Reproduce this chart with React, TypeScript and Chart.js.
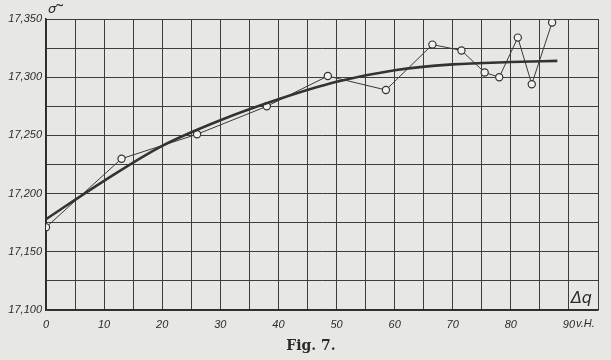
import React, { useEffect, useRef } from "react";
import { Chart, registerables } from "chart.js";

Chart.register(...registerables);

// measured points (Δq in v.H., conductivity)
const measX = [0, 13, 26, 38, 48.5, 58.5, 66.5, 71.5, 75.5, 78, 81.2, 83.6, 87.1];
const measY = [17.171, 17.23, 17.251, 17.275, 17.301, 17.289, 17.328, 17.323, 17.304, 17.3, 17.334, 17.294, 17.347];

// smooth fitted curve
const curveX = [0, 10, 20, 30, 40, 50, 60, 70, 80, 88];
const curveY = [17.178, 17.211, 17.241, 17.263, 17.281, 17.296, 17.306, 17.311, 17.313, 17.314];

const xTickLabels = ["0", "10", "20", "30", "40", "50", "60", "70", "80", "90"];
const yMin = 17.1;
const yMax = 17.35;
const xMin = 0;
const xMax = 95;

const INK = "#2b2b2b";
const FONT = "'Liberation Sans'";

const extras = {
  id: "extras",
  afterDraw(chart: any) {
    const ctx = chart.ctx;
    const xs = chart.scales.x;
    const ys = chart.scales.y;
    ctx.save();
    ctx.fillStyle = INK;
    // sigma label at top of y axis
    ctx.font = "italic 13px 'DejaVu Sans'";
    ctx.textAlign = "left";
    ctx.textBaseline = "alphabetic";
    ctx.fillText("σ", xs.getPixelForValue(0) + 2, ys.getPixelForValue(yMax) - 6);
    ctx.font = "bold 11px 'DejaVu Sans'";
    ctx.fillText("~", xs.getPixelForValue(0) + 9, ys.getPixelForValue(yMax) - 10);
    // Δq label
    ctx.font = "italic 16px 'DejaVu Sans'";
    ctx.textAlign = "right";
    ctx.fillText("Δq", chart.chartArea.right - 6, ys.getPixelForValue(yMin) - 7);
    // v.H. after 90
    ctx.font = "italic 11px " + FONT;
    ctx.textAlign = "left";
    ctx.textBaseline = "top";
    ctx.fillText("v.H.", xs.getPixelForValue(90) + 7, chart.chartArea.bottom + 8);
    // caption
    ctx.font = "bold 14px 'DejaVu Serif'";
    ctx.textAlign = "center";
    ctx.textBaseline = "alphabetic";
    ctx.fillText("Fig. 7.", 311, 350);
    ctx.restore();
  },
};

const bg = {
  id: "bg",
  beforeDraw(chart: any) {
    const ctx = chart.ctx;
    ctx.save();
    ctx.fillStyle = "#e7e7e3";
    ctx.fillRect(0, 0, chart.width, chart.height);
    ctx.restore();
  },
};

export default function App() {
  const ref = useRef<HTMLCanvasElement>(null);
  useEffect(() => {
    if (!ref.current) return;
    const chart = new Chart(ref.current, {
      type: "line",
      data: {
        datasets: [
          {
            label: "Kurve",
            data: curveX.map((x, i) => ({ x, y: curveY[i] })),
            borderColor: "#333333",
            borderWidth: 2.6,
            pointRadius: 0,
            tension: 0.4,
            cubicInterpolationMode: "monotone",
            fill: false,
          },
          {
            label: "Messung",
            data: measX.map((x, i) => ({ x, y: measY[i] })),
            borderColor: "#3a3a3a",
            borderWidth: 1,
            pointRadius: 3.6,
            pointBackgroundColor: "#f2f2ee",
            pointBorderColor: "#333333",
            pointBorderWidth: 1.2,
            tension: 0,
            fill: false,
          },
        ],
      },
      options: {
        responsive: false,
        animation: false,
        layout: { padding: { top: 19, right: 13, left: 0, bottom: 0 } },
        plugins: { legend: { display: false }, tooltip: { enabled: false } },
        scales: {
          x: {
            type: "linear",
            min: xMin,
            max: xMax,
            afterFit: (s: any) => {
              s.height = 50;
            },
            afterBuildTicks: (s: any) => {
              const t = [];
              for (let v = xMin; v <= xMax; v += 5) t.push({ value: v });
              s.ticks = t;
            },
            grid: { color: "#3d3d3d", lineWidth: 1, drawTicks: false },
            border: { color: "#2b2b2b", width: 1.5 },
            ticks: {
              autoSkip: false,
              maxRotation: 0,
              padding: 8,
              color: INK,
              font: { family: FONT, style: "italic", size: 11 },
              callback: (v: any) => {
                const n = Number(v);
                if (n % 10 !== 0) return "";
                return xTickLabels[n / 10] ?? "";
              },
            },
          },
          y: {
            type: "linear",
            min: yMin,
            max: yMax,
            afterFit: (s: any) => {
              s.width = 46;
            },
            afterBuildTicks: (s: any) => {
              const t = [];
              for (let i = 0; i <= 10; i++) t.push({ value: yMin + i * 0.025 });
              s.ticks = t;
            },
            grid: { color: "#3d3d3d", lineWidth: 1, drawTicks: false },
            border: { color: "#2b2b2b", width: 1.5 },
            ticks: {
              autoSkip: false,
              padding: 4,
              color: INK,
              font: { family: FONT, style: "italic", size: 11 },
              callback: (v: any) => {
                const n = Math.round(Number(v) * 1000);
                if (n % 50 !== 0) return "";
                return (n / 1000).toFixed(3).replace(".", ",");
              },
            },
          },
        },
      },
      plugins: [bg, extras],
    } as any);
    return () => chart.destroy();
  }, []);
  return (
    <div style={{ position: "absolute", left: 0, top: 0, width: 611, height: 360 }}>
      <canvas ref={ref} width={611} height={360} style={{ display: "block" }} />
    </div>
  );
}
